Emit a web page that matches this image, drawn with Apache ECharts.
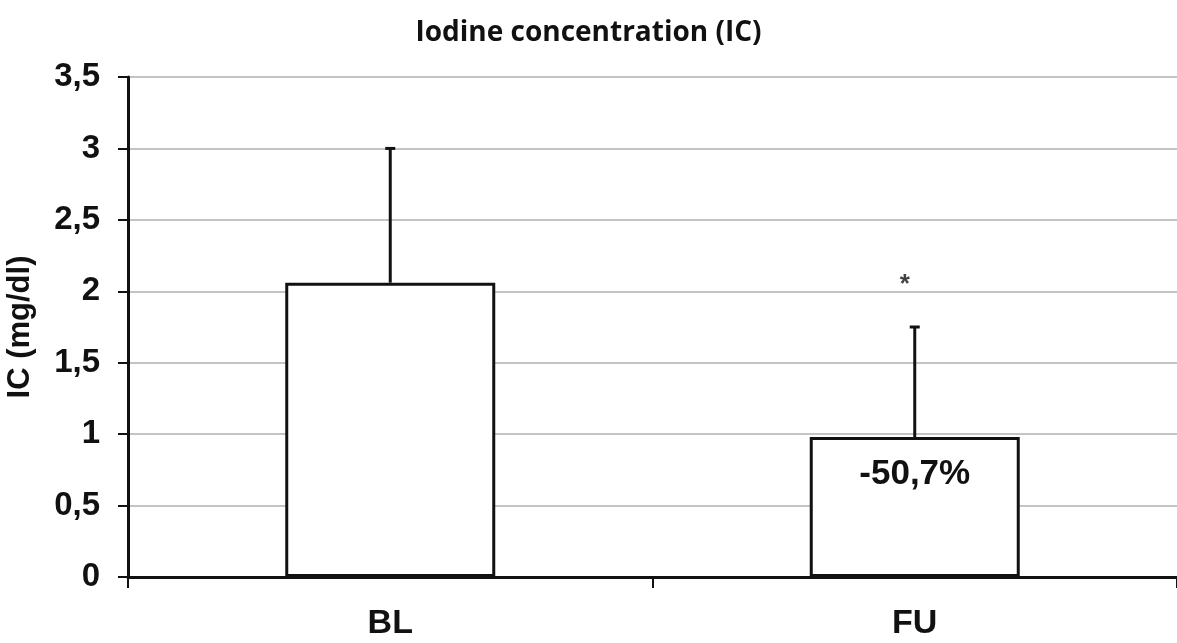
<!DOCTYPE html>
<html>
<head>
<meta charset="utf-8">
<script src="https://cdn.jsdelivr.net/npm/echarts@6/dist/echarts.min.js"></script>
<style>html,body{margin:0;padding:0;background:#fff}#c{width:1177px;height:643px}</style>
</head>
<body>
<div id="c"></div>
<script>
const titleText = 'Iodine concentration (IC)';
const yAxisName = 'IC (mg/dl)';
const categories = ['BL', 'FU'];
const means = [2.06, 0.98];
const errorTops = [3.0, 1.75];
const barLabels = ['', '-50,7%'];
const significance = [null, 2.07];
const sigMark = '*';

const chart = echarts.init(document.getElementById('c'), null, {renderer: 'canvas'});

const barData = means.map((v, i) => ({
  value: v,
  label: {show: !!barLabels[i], formatter: barLabels[i]}
}));
const errData = means.map((v, i) => [i, v, errorTops[i]]);
const sigData = [];
significance.forEach((v, i) => { if (v != null) sigData.push([categories[i], v]); });

chart.setOption({
  animation: false,
  title: {
    text: titleText, left: 'center', top: 14,
    textStyle: {fontFamily: 'Open Sans', fontWeight: 'bold', fontSize: 28, color: '#111'}
  },
  grid: {left: 128, right: 0, top: 77, bottom: 66, containLabel: false, outerBoundsMode: 'none'},
  xAxis: {
    type: 'category', data: categories,
    axisLine: {lineStyle: {color: '#111', width: 3}},
    axisTick: {show: true, length: 11, lineStyle: {color: '#111', width: 2}},
    axisLabel: {margin: 30, fontFamily: 'Liberation Sans', fontWeight: 'bold', fontSize: 34, color: '#111'}
  },
  yAxis: {
    type: 'value', min: 0, max: 3.5, interval: 0.5,
    name: yAxisName, nameLocation: 'middle', nameGap: 92, nameRotate: 90,
    nameTextStyle: {fontFamily: 'Liberation Sans', fontWeight: 'bold', fontSize: 31, color: '#111'},
    axisLine: {show: true, lineStyle: {color: '#111', width: 3}},
    axisTick: {show: true, length: 10, lineStyle: {color: '#111', width: 2}},
    axisLabel: {margin: 28, fontFamily: 'Liberation Sans', fontWeight: 'bold', fontSize: 33, color: '#111',
      formatter: v => String(v).replace('.', ',')},
    splitLine: {lineStyle: {color: '#c4c4c4', width: 2}}
  },
  series: [
    {
      type: 'bar', data: barData, barWidth: 210,
      itemStyle: {color: '#fff', borderColor: '#111', borderWidth: 3},
      label: {position: 'insideTop', distance: 20, fontFamily: 'Liberation Sans', fontWeight: 'bold', fontSize: 35, color: '#111'},
      z: 2
    },
    {
      type: 'custom', data: errData, z: 3,
      renderItem: (params, api) => {
        const x = api.value(0);
        const base = api.coord([x, api.value(1)]);
        const top = api.coord([x, api.value(2)]);
        const style = {stroke: '#111', lineWidth: 3};
        return {type: 'group', children: [
          {type: 'line', shape: {x1: base[0], y1: base[1], x2: top[0], y2: top[1]}, style},
          {type: 'line', shape: {x1: top[0] - 5, y1: top[1], x2: top[0] + 5, y2: top[1]}, style}
        ]};
      }
    },
    {
      type: 'scatter', data: sigData, symbolSize: 0, z: 4,
      label: {show: true, position: 'inside', formatter: sigMark, offset: [-10, 4],
        fontFamily: 'Liberation Sans', fontWeight: 'bold', fontSize: 26, color: '#111'}
    }
  ]
});
</script>
</body>
</html>
